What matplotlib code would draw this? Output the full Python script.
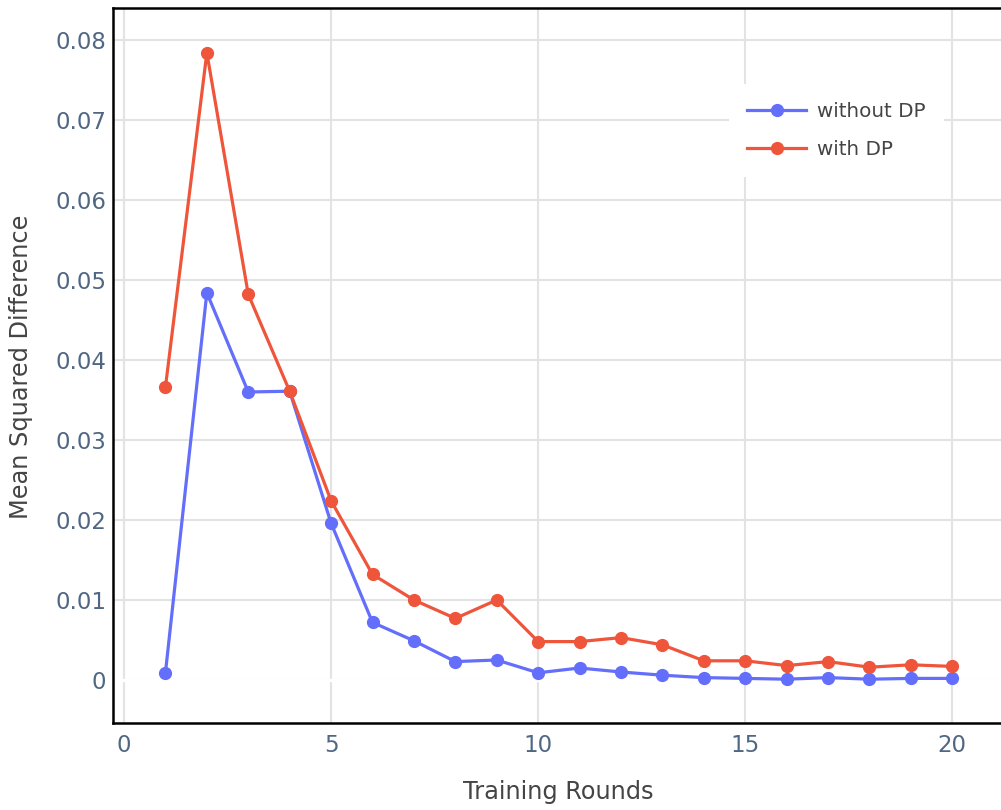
import numpy as np
import matplotlib.pyplot as plt
from matplotlib.ticker import FuncFormatter

# Dados
rodadas = list(range(1, 21))
sem_dp = [0.0009, 0.0484, 0.0360, 0.0361, 0.0196, 0.0072, 0.0049, 0.0023, 0.0025, 0.0009,
          0.0015, 0.0010, 0.0006, 0.0003, 0.0002, 0.0001, 0.0003, 0.0001, 0.0002, 0.0002]
com_dp = [0.0366, 0.0784, 0.0482, 0.0361, 0.0224, 0.0132, 0.0100, 0.0077, 0.0100, 0.0048,
          0.0048, 0.0053, 0.0044, 0.0024, 0.0024, 0.0018, 0.0023, 0.0016, 0.0019, 0.0017]
x_ticks = [0, 5, 10, 15, 20]
y_ticks = [0, 0.01, 0.02, 0.03, 0.04, 0.05, 0.06, 0.07, 0.08]

cor_tick = '#506784'
cor_grid = '#e3e3e3'

fig = plt.figure(figsize=(10.01, 8.10), dpi=100)
ax = fig.add_axes([113 / 1001, 87 / 810, 918 / 1001, 715 / 810])

ax.plot(rodadas, sem_dp, color='#636EFA', marker='o', markersize=8.5, linewidth=2.3,
        label='without DP', zorder=3)
ax.plot(rodadas, com_dp, color='#EF553B', marker='o', markersize=8.5, linewidth=2.3,
        label='with DP', zorder=3)

ax.set_xlim(-0.266, 21.9)
ax.set_ylim(-0.005375, 0.084)
ax.set_xticks(x_ticks)
ax.set_yticks(y_ticks)
ax.yaxis.set_major_formatter(FuncFormatter(lambda v, p: f'{v:g}'))

ax.grid(True, color=cor_grid, linewidth=1.5, zorder=0)
ax.set_axisbelow(True)
# linha do zero em branco, como no plotly
ax.axhline(0, color='white', linewidth=2.5, zorder=1)

ax.tick_params(axis='both', length=0, labelsize=16.5, labelcolor=cor_tick)
ax.tick_params(axis='x', pad=8)
ax.tick_params(axis='y', pad=5)

for lado in ['left', 'bottom', 'top']:
    ax.spines[lado].set_color('black')
    ax.spines[lado].set_linewidth(1.8)
ax.spines['right'].set_visible(False)

ax.set_xlabel('Training Rounds', fontsize=17.3, color='#444444')
ax.set_ylabel('Mean Squared Difference', fontsize=17.3, color='#444444')
ax.xaxis.set_label_coords(558 / 1001, 30 / 810, transform=fig.transFigure)
ax.yaxis.set_label_coords(33 / 1001, 443 / 810, transform=fig.transFigure)

leg = ax.legend(loc='upper left', bbox_to_anchor=(719 / 1001, 736 / 810),
                bbox_transform=fig.transFigure, fontsize=14.3, frameon=True,
                facecolor='white', edgecolor='none', framealpha=1, fancybox=False,
                handlelength=3.0, handletextpad=0.55, borderpad=0.9, labelspacing=0.95)
for t in leg.get_texts():
    t.set_color('#444444')

plt.savefig('out.png', dpi=100)
plt.close()
